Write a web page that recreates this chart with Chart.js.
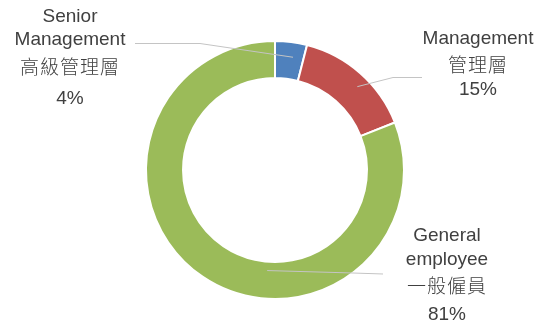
<!DOCTYPE html>
<html lang="zh-Hant">
<head>
    <meta charset="UTF-8">
    <title>Staff by grade</title>
    <script src="https://cdn.jsdelivr.net/npm/chart.js"></script>
    <style>
        html, body { margin: 0; padding: 0; background: #fff; }
        #wrap { width: 544px; height: 329px; }
    </style>
</head>
<body>
    <div id="wrap"><canvas id="gradeChart" width="544" height="329"></canvas></div>

    <script>
        // data
        const categoriesEn = ['Senior Management', 'Management', 'General employee'];
        const categoriesZh = ['高級管理層', '管理層', '一般僱員'];
        const shares = [4, 15, 81];
        const colours = ['#4f81bd', '#c0504d', '#9bbb59'];

        // where each label sits and where its leader line goes
        // anchor: t = fraction along slice, s = fraction across ring
        const labelLayout = [
            { x: 70,  lines: [16.5, 40, 69, 98.5], t: 0.63, s: 0.6,  path: [[200, 43.5], [135, 43.5]] },
            { x: 478, lines: [39, 67, 89.5],       t: 0.56, s: 0.68, path: [[393, 77.5], [422, 77.5]] },
            { x: 447, lines: [235.5, 260, 288, 315], t: 0.398, s: 0.24, path: [[353, 273], [383, 274]] }
        ];

        const calloutPlugin = {
            id: 'callouts',
            afterDatasetsDraw(chart) {
                const ctx = chart.ctx;
                const arcs = chart.getDatasetMeta(0).data;
                ctx.save();
                arcs.forEach((arc, i) => {
                    const lay = labelLayout[i];
                    const p = arc.getProps(['x', 'y', 'startAngle', 'endAngle', 'innerRadius', 'outerRadius'], true);
                    const a = p.startAngle + lay.t * (p.endAngle - p.startAngle);
                    const r = p.innerRadius + lay.s * (p.outerRadius - p.innerRadius);
                    ctx.strokeStyle = '#c4c4c4';
                    ctx.lineWidth = 1;
                    ctx.beginPath();
                    ctx.moveTo(p.x + r * Math.cos(a), p.y + r * Math.sin(a));
                    lay.path.forEach(pt => ctx.lineTo(pt[0], pt[1]));
                    ctx.stroke();

                    const words = categoriesEn[i].split(' ');
                    const zhRow = words.length;
                    const lines = words.concat([categoriesZh[i], shares[i] + '%']);
                    ctx.fillStyle = '#404040';
                    ctx.textAlign = 'center';
                    ctx.textBaseline = 'middle';
                    ctx.font = '300 19px "Liberation Sans", "Noto Sans CJK TC", sans-serif';
                    lines.forEach((txt, k) => {
                        ctx.letterSpacing = (k === zhRow) ? '1px' : '0px';
                        ctx.fillText(txt, lay.x, lay.lines[k]);
                    });
                });
                ctx.restore();
            }
        };

        const ctx = document.getElementById('gradeChart').getContext('2d');
        new Chart(ctx, {
            type: 'doughnut',
            data: {
                labels: categoriesEn,
                datasets: [{
                    data: shares,
                    backgroundColor: colours,
                    borderColor: '#ffffff',
                    borderWidth: 2
                }]
            },
            options: {
                responsive: false,
                animation: false,
                radius: 129,
                cutout: '71.3%',
                layout: { padding: { top: 42, bottom: 31, left: 100, right: 94 } },
                plugins: {
                    legend: { display: false },
                    tooltip: { enabled: false }
                }
            },
            plugins: [calloutPlugin]
        });
    </script>
</body>
</html>
